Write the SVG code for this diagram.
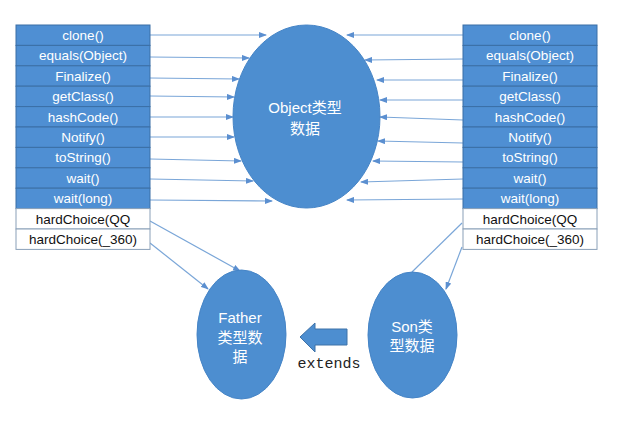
<svg xmlns="http://www.w3.org/2000/svg" width="641" height="421" viewBox="0 0 641 421">
<defs>
<marker id="ah" markerWidth="8" markerHeight="6" refX="7" refY="3" orient="auto" markerUnits="userSpaceOnUse">
<path d="M0,0 L8,3 L0,6 z" fill="#5b8fd0"/>
</marker>
<style>
.cell{fill:#4f8fd3;stroke:#3b6fa6;stroke-width:1}
.wcell{fill:#ffffff;stroke:#8aa0b8;stroke-width:1}
.ct{font-family:"Liberation Sans",Arial,sans-serif;font-size:13.5px;fill:#ffffff;text-anchor:middle}
.wt{font-family:"Liberation Sans",Arial,sans-serif;font-size:13.5px;fill:#111111;text-anchor:middle}
.ell{fill:#4d8ed0;stroke:#4584c6;stroke-width:1}
.et{font-family:"Liberation Sans","Noto Sans CJK SC",sans-serif;font-size:15px;fill:#ffffff;text-anchor:middle}
.ln{stroke:#7aa6d8;stroke-width:1.2;fill:none}
.la{stroke:#7aa6d8;stroke-width:1.2;fill:none;marker-end:url(#ah)}
</style>
</defs>
<rect width="641" height="421" fill="#ffffff"/>
<g id="connectors">
<line class="la" x1="150" y1="35" x2="266" y2="35"/>
<line class="la" x1="150" y1="57" x2="249" y2="58"/>
<line class="la" x1="150" y1="78" x2="239" y2="79"/>
<line class="la" x1="150" y1="96" x2="234" y2="97"/>
<line class="la" x1="150" y1="117" x2="233" y2="117"/>
<line class="la" x1="150" y1="137" x2="234" y2="137"/>
<line class="la" x1="150" y1="159" x2="241" y2="161"/>
<line class="la" x1="150" y1="179" x2="253" y2="181"/>
<line class="la" x1="150" y1="200" x2="272" y2="201"/>
<line class="la" x1="463" y1="35" x2="347" y2="35"/>
<line class="la" x1="463" y1="59" x2="365" y2="60"/>
<line class="la" x1="463" y1="80" x2="377" y2="80"/>
<line class="la" x1="463" y1="100" x2="380" y2="100"/>
<line class="la" x1="463" y1="120" x2="380" y2="117"/>
<line class="la" x1="463" y1="143" x2="378" y2="141"/>
<line class="la" x1="463" y1="162" x2="373" y2="161"/>
<line class="la" x1="463" y1="179" x2="361" y2="182"/>
<line class="la" x1="463" y1="199" x2="347" y2="200"/>
<line class="la" x1="150" y1="221" x2="240" y2="271"/>
<line class="la" x1="150" y1="243" x2="208" y2="289"/>
<line class="ln" x1="462" y1="223" x2="412" y2="272"/>
<line class="la" x1="462" y1="247" x2="446" y2="289"/>
</g>
<g id="left-table">
<rect class="cell" x="16" y="25" width="134" height="20.4"/>
<rect class="cell" x="16" y="45.4" width="134" height="20.4"/>
<rect class="cell" x="16" y="65.8" width="134" height="20.4"/>
<rect class="cell" x="16" y="86.2" width="134" height="20.4"/>
<rect class="cell" x="16" y="106.6" width="134" height="20.4"/>
<rect class="cell" x="16" y="127" width="134" height="20.4"/>
<rect class="cell" x="16" y="147.4" width="134" height="20.4"/>
<rect class="cell" x="16" y="167.8" width="134" height="20.4"/>
<rect class="cell" x="16" y="188.2" width="134" height="20.4"/>
<rect class="wcell" x="16" y="208.6" width="134" height="20.4"/>
<rect class="wcell" x="16" y="229" width="134" height="20.4"/>
<text class="ct" x="83" y="40">clone()</text>
<text class="ct" x="83" y="60.4">equals(Object)</text>
<text class="ct" x="83" y="80.8">Finalize()</text>
<text class="ct" x="83" y="101.2">getClass()</text>
<text class="ct" x="83" y="121.6">hashCode()</text>
<text class="ct" x="83" y="142">Notify()</text>
<text class="ct" x="83" y="162.4">toString()</text>
<text class="ct" x="83" y="182.8">wait()</text>
<text class="ct" x="83" y="203.2">wait(long)</text>
<text class="wt" x="83" y="223.6">hardChoice(QQ</text>
<text class="wt" x="83" y="244">hardChoice(_360)</text>
</g>
<g id="right-table">
<rect class="cell" x="463" y="25" width="134" height="20.4"/>
<rect class="cell" x="463" y="45.4" width="134" height="20.4"/>
<rect class="cell" x="463" y="65.8" width="134" height="20.4"/>
<rect class="cell" x="463" y="86.2" width="134" height="20.4"/>
<rect class="cell" x="463" y="106.6" width="134" height="20.4"/>
<rect class="cell" x="463" y="127" width="134" height="20.4"/>
<rect class="cell" x="463" y="147.4" width="134" height="20.4"/>
<rect class="cell" x="463" y="167.8" width="134" height="20.4"/>
<rect class="cell" x="463" y="188.2" width="134" height="20.4"/>
<rect class="wcell" x="463" y="208.6" width="134" height="20.4"/>
<rect class="wcell" x="463" y="229" width="134" height="20.4"/>
<text class="ct" x="530" y="40">clone()</text>
<text class="ct" x="530" y="60.4">equals(Object)</text>
<text class="ct" x="530" y="80.8">Finalize()</text>
<text class="ct" x="530" y="101.2">getClass()</text>
<text class="ct" x="530" y="121.6">hashCode()</text>
<text class="ct" x="530" y="142">Notify()</text>
<text class="ct" x="530" y="162.4">toString()</text>
<text class="ct" x="530" y="182.8">wait()</text>
<text class="ct" x="530" y="203.2">wait(long)</text>
<text class="wt" x="530" y="223.6">hardChoice(QQ</text>
<text class="wt" x="530" y="244">hardChoice(_360)</text>
</g>
<g id="object">
<ellipse class="ell" cx="306.5" cy="116.5" rx="73.5" ry="91.5"/>
<text class="et" x="305" y="113">Object类型</text>
<text class="et" x="305" y="134">数据</text>
</g>
<g id="father">
<ellipse class="ell" cx="241.5" cy="334.5" rx="44.5" ry="64.5"/>
<text class="et" x="240" y="323">Father</text>
<text class="et" x="240" y="343">类型数</text>
<text class="et" x="240" y="362">据</text>
</g>
<g id="son">
<ellipse class="ell" cx="412.5" cy="335" rx="44.5" ry="63"/>
<text class="et" x="412" y="332">Son类</text>
<text class="et" x="412" y="351">型数据</text>
</g>
<g id="extends">
<path d="M300,337 L315,323 L315,329 L347,329 L347,345 L315,345 L315,352 Z" fill="#4d8ed0" stroke="#3e72a8" stroke-width="1"/>
<text x="329" y="368" font-family="'Liberation Mono','Courier New',monospace" font-size="15" fill="#222222" text-anchor="middle">extends</text>
</g>
</svg>
